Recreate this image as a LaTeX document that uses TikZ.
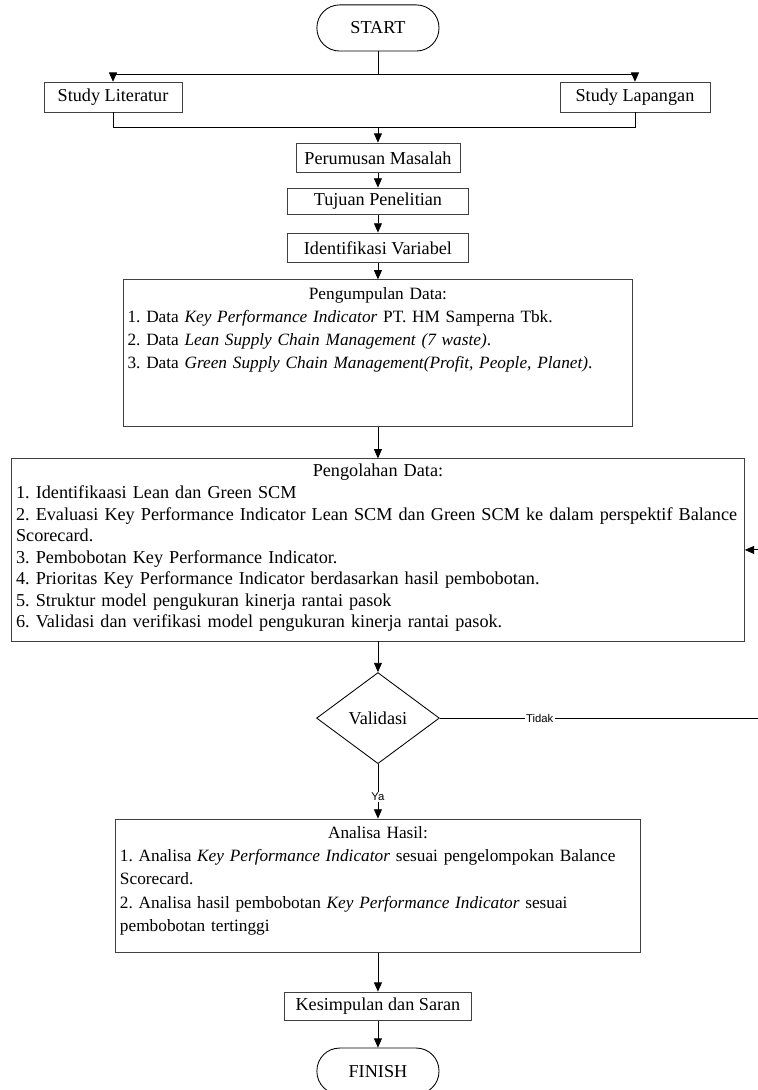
\documentclass[tikz,border=0pt]{standalone}
\usepackage{fontspec}
\setmainfont{Liberation Serif}
\newfontfamily\lblfont{Liberation Sans}
\usetikzlibrary{shapes.geometric,arrows.meta,positioning}
\frenchspacing

\begin{document}
\begin{tikzpicture}[
  box/.style={rectangle, draw=black!75, line width=0.65pt, minimum height=0.79cm, inner sep=2pt, font=\fontsize{13.7}{16}\selectfont},
  term/.style={rectangle, draw, line width=0.65pt, rounded corners=0.6cm, minimum width=3.23cm, minimum height=1.22cm, font=\fontsize{13.7}{16}\selectfont},
  bigbox/.style={rectangle, draw=black!75, line width=0.65pt},
  txt/.style={inner sep=0pt, align=left, font=\fontsize{13}{17.5}\selectfont},
  decision/.style={diamond, draw, line width=0.65pt, minimum width=3.25cm, minimum height=2.41cm, inner sep=0pt, font=\fontsize{13.7}{16}\selectfont},
  arr/.style={-{Triangle[length=7pt,width=6pt]}, line width=0.65pt},
  lbl/.style={fill=white, inner sep=1pt, font=\lblfont\fontsize{8.5}{10}\selectfont}
]
  \useasboundingbox (0,0) rectangle (20.03,-28.84);

  \node[term] (start) at (10,-0.74) {START};
  \node[box, minimum width=3.65cm] (lit) at (2.99,-2.57) {Study Literatur};
  \node[box, minimum width=3.97cm] (lap) at (16.8,-2.57) {Study Lapangan};
  \coordinate (split) at (10,-1.98);
  \coordinate (merge) at (10,-3.36);

  \node[box, minimum width=4.34cm] (rumus) at (10,-4.18) {Perumusan Masalah};
  \node[box, minimum width=4.79cm, minimum height=0.69cm] (tujuan) at (10,-5.32) {Tujuan Penelitian};
  \node[box, minimum width=4.79cm] (identif) at (10,-6.56) {Identifikasi Variabel};

  \node[bigbox, minimum width=13.49cm, minimum height=3.89cm] (kumpul) at (10,-9.35) {};
  \node[txt, text width=13.25cm, below=0.2cm of kumpul.north] (kumpultxt) {\makebox[\hsize]{Pengumpulan Data:}\\
    1. Data \textit{Key Performance Indicator} PT. HM Samperna Tbk.\\
    2. Data \textit{Lean Supply Chain Management (7 waste)}.\\
    3. Data \textit{Green Supply Chain Management(Profit, People, Planet)}.};

  \node[bigbox, minimum width=19.39cm, minimum height=4.82cm] (olah) at (10,-14.55) {};
  \node[txt, text width=19.15cm, below=0.15cm of olah.north, font=\fontsize{13.7}{16.2}\selectfont] (olahtxt) {\makebox[\hsize]{Pengolahan Data:}\\
    1. Identifikaasi Lean dan Green SCM\\
    \mbox{2. Evaluasi Key Performance Indicator Lean SCM dan Green SCM ke dalam perspektif Balance}\\
    Scorecard.\\
    3. Pembobotan Key Performance Indicator.\\
    4. Prioritas Key Performance Indicator berdasarkan hasil pembobotan.\\
    5. Struktur model pengukuran kinerja rantai pasok\\
    6. Validasi dan verifikasi model pengukuran kinerja rantai pasok.};

  \node[decision] (valid) at (10,-19) {Validasi};
  \coordinate (back) at (20.16,-19);

  \node[bigbox, minimum width=13.89cm, minimum height=3.54cm] (analisa) at (10,-23.44) {};
  \node[txt, text width=13.65cm, below=0.2cm of analisa.north] (analisatxt) {\makebox[\hsize]{Analisa Hasil:}\\
    \mbox{1. Analisa \textit{Key Performance Indicator} sesuai pengelompokan Balance}\\
    Scorecard.\\
    \mbox{2. Analisa hasil pembobotan \textit{Key Performance Indicator} sesuai}\\
    pembobotan tertinggi};

  \node[box, minimum width=4.97cm, minimum height=0.74cm] (simpul) at (10,-26.62) {Kesimpulan dan Saran};
  \node[term] (finish) at (10,-28.34) {FINISH};

  \draw[line width=0.65pt] (start) -- (split);
  \draw[arr] (split) -| (lit);
  \draw[arr] (split) -| (lap);
  \draw[line width=0.65pt] (lit) |- (merge);
  \draw[line width=0.65pt] (lap) |- (merge);
  \draw[arr] (merge) -- (rumus);
  \draw[arr] (rumus) -- (tujuan);
  \draw[arr] (tujuan) -- (identif);
  \draw[arr] (identif) -- (kumpul);
  \draw[arr] (kumpul) -- (olah);
  \draw[arr] (olah) -- (valid);
  \draw[arr] (valid) -- node[lbl, pos=0.31] {Tidak} (back) |- (olah);
  \draw[arr] (valid) -- node[lbl, pos=0.6] {Ya} (analisa);
  \draw[arr] (analisa) -- (simpul);
  \draw[arr] (simpul) -- (finish);
\end{tikzpicture}
\end{document}
